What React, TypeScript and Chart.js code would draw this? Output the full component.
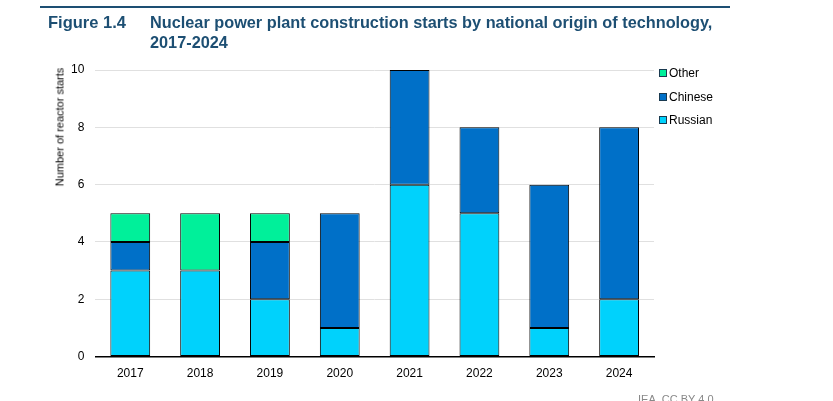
import React, { useEffect, useRef } from "react";
import { Chart, registerables } from "chart.js";

Chart.register(...registerables);

const years = ["2017", "2018", "2019", "2020", "2021", "2022", "2023", "2024"];
const russian = [3, 3, 2, 1, 6, 5, 1, 2];
const chinese = [1, 0, 2, 4, 4, 3, 5, 6];
const other = [1, 2, 1, 0, 0, 0, 0, 0];

const seriesNames = ["Russian", "Chinese", "Other"];
const seriesColors = ["#00d2fc", "#0070c8", "#00f09a"];

const FONT = "'Liberation Sans', Arial, sans-serif";
const nz = (arr: number[]) => arr.map((v) => (v === 0 ? null : v));

export default function App() {
  const ref = useRef<HTMLCanvasElement | null>(null);

  useEffect(() => {
    document.body.style.margin = "0";
    const ctx = ref.current!;
    const values = [russian, chinese, other];
    const chart = new Chart(ctx, {
      type: "bar",
      data: {
        labels: years,
        datasets: seriesNames.map((name, i) => ({
          label: name,
          data: nz(values[i]),
          backgroundColor: seriesColors[i],
          borderColor: "#000",
          borderWidth: 1,
          borderSkipped: false,
        })),
      },
      options: {
        animation: false,
        responsive: false,
        maintainAspectRatio: false,
        layout: { padding: { top: 70, bottom: 18, left: 60, right: 179 } },
        datasets: { bar: { categoryPercentage: 1, barPercentage: 0.57 } },
        plugins: {
          tooltip: { enabled: false },
          legend: { display: false },
        },
        scales: {
          x: {
            stacked: true,
            grid: { display: false },
            border: { display: true, color: "#000", width: 1.5 },
            ticks: { color: "#000", font: { family: FONT, size: 12 }, padding: 2 },
          },
          y: {
            stacked: true,
            min: 0,
            max: 10,
            ticks: { stepSize: 2, color: "#000", font: { family: FONT, size: 12 }, padding: 11 },
            grid: { color: "#e0e0e0", drawTicks: false },
            border: { display: false },
          },
        },
      },
    });
    return () => chart.destroy();
  }, []);

  const legendItems = [2, 1, 0];

  return (
    <div style={{ position: "fixed", left: 0, top: 0, width: 833, height: 401, background: "#fff", overflow: "hidden", fontFamily: FONT }}>
      <canvas ref={ref} width={833} height={401} style={{ position: "absolute", left: 0, top: 0 }} />
      <div style={{ position: "absolute", left: 40, top: 6, width: 690, height: 1.5, background: "#1d4f73" }} />
      <div style={{ position: "absolute", left: 48, top: 12, fontWeight: "bold", fontSize: 16.5, color: "#1d4f73", lineHeight: "20px" }}>Figure 1.4</div>
      <div style={{ position: "absolute", left: 150, top: 12, fontWeight: "bold", fontSize: 16.3, color: "#1d4f73", lineHeight: "20px", whiteSpace: "nowrap" }}>
        Nuclear power plant construction starts by national origin of technology,
        <br />
        2017-2024
      </div>
      <div
        style={{
          position: "absolute",
          left: 60,
          top: 127,
          transform: "translate(-50%, -50%) rotate(-90deg)",
          fontSize: 11,
          color: "#000",
          whiteSpace: "nowrap",
          lineHeight: "13px",
        }}
      >
        Number of reactor starts
      </div>
      {legendItems.map((idx, k) => (
        <div key={seriesNames[idx]} style={{ position: "absolute", left: 659, top: 66 + k * 23.5, height: 14, display: "flex", alignItems: "center", fontSize: 12, color: "#000" }}>
          <span style={{ display: "inline-block", width: 6, height: 6, background: seriesColors[idx], border: "1px solid #1a3a50", marginRight: 2 }} />
          {seriesNames[idx]}
        </div>
      ))}
      <div style={{ position: "absolute", left: 638, top: 393, fontSize: 11, color: "#888" }}>IEA. CC BY 4.0</div>
    </div>
  );
}
